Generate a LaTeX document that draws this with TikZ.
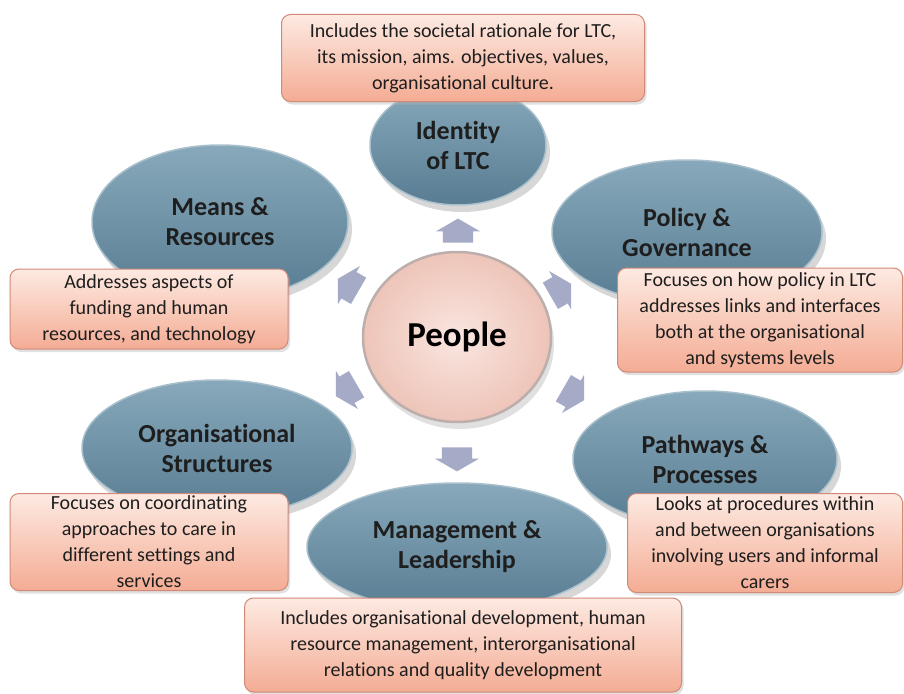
\documentclass[tikz,border=0pt]{standalone}
\usepackage{fontspec}
\setmainfont{Carlito}[RawFeature={-liga;-clig;-calt;-dlig}]
\usetikzlibrary{shapes.geometric,shapes.arrows,shadows}
\definecolor{areatop}{HTML}{88A9BB}
\definecolor{areabottom}{HTML}{587C92}
\definecolor{areaedge}{HTML}{A9C0CC}
\definecolor{hubinner}{HTML}{F9E6E0}
\definecolor{hubouter}{HTML}{EEC4B8}
\definecolor{hubedge}{HTML}{BCAEAC}
\definecolor{notetop}{HTML}{FDEAE2}
\definecolor{notebottom}{HTML}{F4AC94}
\definecolor{noteedge}{HTML}{CF8A78}
\definecolor{pushfill}{HTML}{A5ABC6}
\definecolor{textdark}{HTML}{1E1E1E}
\begin{document}
\begin{tikzpicture}[x=1pt, y=-1pt,
	area/.style={ellipse, draw=areaedge, line width=1.5pt, top color=areatop, bottom color=areabottom,
		text=textdark, font=\fontsize{26}{30}\selectfont\bfseries, align=center, inner sep=0pt,
		drop shadow={shadow xshift=4pt, shadow yshift=-7pt, fill=black!35, opacity=0.45}},
	hub/.style={ellipse, draw=hubedge, line width=2.5pt, inner color=hubinner, outer color=hubouter,
		text=black, font=\fontsize{35}{40}\selectfont\bfseries, inner sep=0pt,
		drop shadow={shadow xshift=3pt, shadow yshift=-7pt, fill=black!30, opacity=0.4}},
	note/.style={rectangle, rounded corners=9pt, draw=noteedge, line width=1pt, top color=notetop,
		bottom color=notebottom, text=textdark, font=\fontsize{20}{26}\selectfont, align=center, inner sep=2pt,
		drop shadow={shadow xshift=2pt, shadow yshift=-3pt, fill=black!30, opacity=0.4}},
	push/.style={single arrow, fill=pushfill, draw=none, minimum height=24pt, text height=30pt, text depth=0pt,
		text width=0pt, single arrow head extend=7pt, single arrow tip angle=120, inner sep=0pt}]
	\useasboundingbox (0,0) rectangle (904,693);
	% six areas round the centre
	\node[area, minimum width=176pt, minimum height=120pt] (identity) at (458,145) {Identity\\of LTC};
	\node[area, minimum width=256pt, minimum height=154pt] (means) at (220,222) {Means \&\\Resources};
	\node[area, minimum width=270pt, minimum height=144pt] (policy) at (687,232) {Policy \&\\Governance};
	\node[area, minimum width=270pt, minimum height=136pt] (structures) at (217,448) {Organisational\\Structures};
	\node[area, minimum width=264pt, minimum height=136pt] (pathways) at (705,459) {Pathways \&\\Processes};
	\node[area, minimum width=300pt, minimum height=128pt] (leadership) at (457,547) {Management \&\\Leadership};
	% centre
	\node[hub, minimum width=188pt, minimum height=170pt] (people) at (457,337) {People};
	\foreach \px/\py/\a [count=\i] in {458/235/90, 557/292/30, 570/392/-30, 457/455/-90, 350/388/-150, 352/287/150}
		\node[push, rotate=\a] (push\i) at (\px,\py) {};
	% notes
	\node[note, minimum width=363pt, minimum height=87pt] (identitynote) at (463,58)
		{Includes the societal rationale for LTC,\\its mission, aims. objectives, values,\\organisational culture.};
	\node[note, minimum width=278pt, minimum height=80pt] (meansnote) at (149,309)
		{Addresses aspects of\\funding and human\\resources, and technology};
	\node[note, minimum width=285pt, minimum height=104pt] (policynote) at (760,320)
		{Focuses on how policy in LTC\\addresses links and interfaces\\both at the organisational\\and systems levels};
	\node[note, minimum width=278pt, minimum height=97pt] (structuresnote) at (149,542)
		{Focuses on coordinating\\approaches to care in\\different settings and\\services};
	\node[note, minimum width=275pt, minimum height=99pt] (pathwaysnote) at (765,543)
		{Looks at procedures within\\and between organisations\\involving users and informal\\carers};
	\node[note, minimum width=437pt, minimum height=94pt] (leadershipnote) at (463,645)
		{Includes organisational development, human\\resource management, interorganisational\\relations and quality development};
\end{tikzpicture}
\end{document}
